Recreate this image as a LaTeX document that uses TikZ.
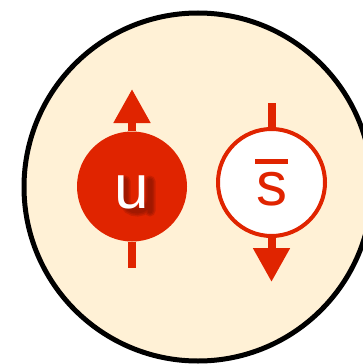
\documentclass[tikz,border=0pt]{standalone}
\definecolor{QuarkRed}{HTML}{E02400}
\definecolor{ShadowRed}{HTML}{6A0E00}
\definecolor{MesonCream}{HTML}{FFF1D6}
\definecolor{MesonBlack}{HTML}{000000}
\definecolor{QuarkWhite}{HTML}{FFFFFF}
\usepackage{fontspec}
\setmainfont{Liberation Sans}
\usepackage{tikz}
\usetikzlibrary{arrows.meta,backgrounds}
\newcommand{\quarkfont}{\fontsize{62}{62}\selectfont}
\newcommand{\antibar}[1]{\ooalign{#1\cr\hidewidth\rule[41pt]{33pt}{5pt}\hidewidth\cr}}
\tikzset{
    % Meson bag
    mesonnode/.style={
        circle,
        draw=MesonBlack,
        fill=MesonCream,
        line width=5pt,
        minimum size=348pt,
        inner sep=0pt
    },
    % Base quark style
    quarknode/.style={
        circle,
        inner sep=0pt,
        text depth=0pt,
        font=\quarkfont
    },
    % Quark
    fullquark/.style={
        quarknode,
        fill=QuarkRed,
        minimum size=110pt
    },
    % Quark label
    quarklabel/.style={
        quarknode,
        text=QuarkWhite,
        text height=43pt
    },
    % Antiquark
    antiquark/.style={
        quarknode,
        draw=QuarkRed,
        fill=QuarkWhite,
        text=QuarkRed,
        line width=4pt,
        minimum size=107pt,
        text height=45pt
    },
    % Soft shadow stroke
    softshadow/.style={
        draw=ShadowRed,
        line width=#1,
        draw opacity=0.22,
        line cap=round
    },
    % Spin line
    spinline/.style={
        line width=8pt,
        draw=QuarkRed
    },
    % Spin arrow
    spinarrow/.style={
        spinline,
        -{Triangle[length=34pt,width=35pt]}
    }
}
\begin{document}
\begin{tikzpicture}[x=1pt, y=-1pt]
    \useasboundingbox (0,0) rectangle (363,364);

    % Quarks
    \node[fullquark] (u) at (132,186.5) {};
    \node[antiquark] (s) at (271.5,182.5) {\antibar{s}};

    % Shadow of the u
    \foreach \w in {11pt,8pt,5pt}
        \draw[softshadow=\w, shift={(4,4)}] (121,177) -- (121,196)
            .. controls (121,211) and (146,211) .. (146,194) -- (146,177)
            (146,194) -- (146,207);

    \node[quarklabel] (ulabel) at (u) {u};

    % Spin ends
    \coordinate (utop) at (132,89);
    \coordinate (ubot) at (132,268);
    \coordinate (stop) at (271.5,103);
    \coordinate (sbot) at (271.5,282);

    \begin{scope}[on background layer]
        % Bag
        \node[mesonnode] (meson) at (198,187) {};

        % Spins
        \draw[spinline] (u.south) -- (ubot);
        \draw[spinarrow] (u.north) -- (utop);
        \draw[spinline] (stop) -- (s.north);
        \draw[spinarrow] (s.south) -- (sbot);
    \end{scope}
\end{tikzpicture}
\end{document}
